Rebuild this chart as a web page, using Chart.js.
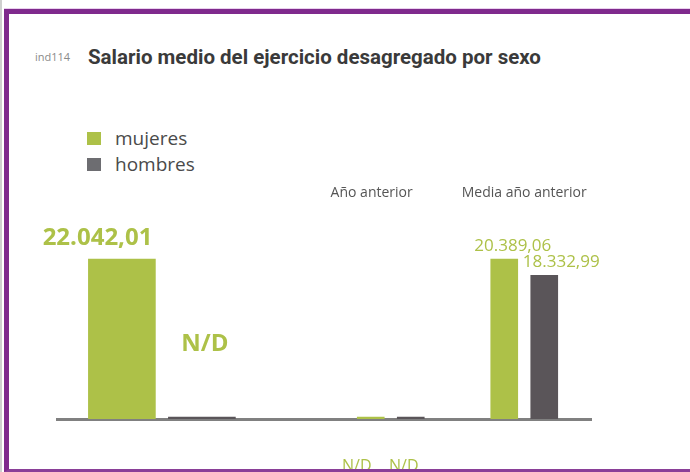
<!DOCTYPE html>
<html>
<head>
<meta charset="utf-8">
<script src="https://cdn.jsdelivr.net/npm/chart.js@4.4.0/dist/chart.umd.min.js"></script>
<style>
  html, body { margin: 0; padding: 0; background: #fff; }
  body { width: 690px; height: 472px; position: relative; overflow: hidden; font-family: "Open Sans", sans-serif; }
  .edge { position: absolute; left: 0; top: 0; width: 2px; height: 472px; background: #cfcfcf; }
  .frame { position: absolute; left: 4px; top: 9px; width: 720px; height: 463px; box-sizing: border-box;
           border-top: 5px solid #7f2a8d; border-left: 5px solid #7f2a8d; border-bottom: 3px solid #8a3f98;
           box-shadow: 0 -1px 0 #ead0ee; z-index: 2; }
  #code { position: absolute; left: 35px; top: 50px; font-size: 11px; line-height: 14px; color: #8a8a8a; }
  #title { position: absolute; left: 88px; top: 45px; font: bold 20.5px/24px Roboto, sans-serif; color: #3a3a3a; }
  #legend { position: absolute; left: 87px; top: 125px; }
  .item { display: flex; align-items: center; height: 26px; font-size: 19px; color: #4a4a4a; }
  .sw { width: 14px; height: 13px; margin-right: 14px; }
  canvas { position: absolute; left: 0; top: 0; z-index: 1; }
</style>
</head>
<body>
<div class="edge"></div>
<div class="frame"></div>
<div id="code">ind114</div>
<div id="title">Salario medio del ejercicio desagregado por sexo</div>
<div id="legend"></div>
<canvas id="salarioChart" width="690" height="472"></canvas>
<script>
// datos
const categories = ['', 'Año anterior', 'Media año anterior'];
const seriesNames = ['mujeres', 'hombres'];
const mujeres = [22042.01, 0, 20389.06];
const hombres = [0, 0, 18332.99];

const green = '#adc148';
const dark = '#5a5559';
const legendColors = [green, '#6d6d71'];

// huecos del eje x (cada grupo cae en un hueco)
const SLOTS = 28;
const barSlot = [5, 17, 24];
const labelSlot = [5, 16, 24];

function fmt(v) {
  const parts = v.toFixed(2).split('.');
  return parts[0].replace(/\B(?=(\d{3})+(?!\d))/g, '.') + ',' + parts[1];
}

function spread(values, groups) {
  const out = Array(SLOTS).fill(null);
  groups.forEach(g => out[barSlot[g]] = values[g]);
  return out;
}

const slotLabels = Array(SLOTS).fill('');
const topLabels = Array(SLOTS).fill('');
categories.forEach((c, i) => topLabels[labelSlot[i]] = c);

// leyenda html
const legend = document.getElementById('legend');
seriesNames.forEach((name, i) => {
  legend.insertAdjacentHTML('beforeend',
    `<div class="item"><div class="sw" style="background:${legendColors[i]}"></div>${name}</div>`);
});

const bigFont = 'bold 24px "Open Sans"';
const smallFont = '17px "Open Sans"';
const ndFont = '16px "Open Sans"';

const valueLabels = {
  id: 'valueLabels',
  afterDatasetsDraw(chart) {
    const ctx = chart.ctx;
    chart.data.datasets.forEach((ds, i) => {
      const meta = chart.getDatasetMeta(i);
      meta.data.forEach((bar, j) => {
        const v = ds.data[j];
        if (v === null) return;
        const st = v === 0 ? ds.ndLabel : ds.valueLabel;
        const y = v === 0 ? chart.chartArea.bottom : bar.y;
        const x = st.align === 'right' ? bar.x + bar.width / 2 : bar.x;
        ctx.save();
        ctx.font = st.font;
        ctx.fillStyle = green;
        ctx.textAlign = st.align;
        ctx.textBaseline = 'middle';
        ctx.fillText(v === 0 ? 'N/D' : fmt(v), x + st.dx, y + st.dy);
        ctx.restore();
      });
    });
  }
};

const headroom = 1.34;

new Chart(document.getElementById('salarioChart'), {
  type: 'bar',
  data: {
    labels: slotLabels,
    datasets: [
      {
        label: seriesNames[0], data: spread(mujeres, [0]), stack: 'm', yAxisID: 'y',
        backgroundColor: green, barThickness: 80, maxBarThickness: 67, minBarLength: 2,
        valueLabel: { font: bigFont, align: 'right', dx: -3, dy: -21 },
        ndLabel: { font: bigFont, align: 'center', dx: 3, dy: -75 }
      },
      {
        label: seriesNames[1], data: spread(hombres, [0]), stack: 'h', yAxisID: 'y',
        backgroundColor: dark, barThickness: 80, maxBarThickness: 67, minBarLength: 2,
        valueLabel: { font: bigFont, align: 'right', dx: -3, dy: -21 },
        ndLabel: { font: bigFont, align: 'center', dx: 3, dy: -75 }
      },
      {
        label: seriesNames[0], data: spread(mujeres, [1, 2]), stack: 'm', yAxisID: 'y2',
        backgroundColor: green, barThickness: 40, maxBarThickness: 27, minBarLength: 2,
        valueLabel: { font: smallFont, align: 'center', dx: 8.5, dy: -13 },
        ndLabel: { font: ndFont, align: 'center', dx: -14, dy: 47 }
      },
      {
        label: seriesNames[1], data: spread(hombres, [1, 2]), stack: 'h', yAxisID: 'y2',
        backgroundColor: dark, barThickness: 40, maxBarThickness: 27, minBarLength: 2,
        valueLabel: { font: smallFont, align: 'center', dx: 17, dy: -13 },
        ndLabel: { font: ndFont, align: 'center', dx: -7, dy: 47 }
      }
    ]
  },
  options: {
    responsive: false,
    animation: false,
    layout: { padding: { left: 57, right: 99, top: 182, bottom: 53 } },
    plugins: { legend: { display: false }, tooltip: { enabled: false } },
    scales: {
      x: {
        offset: true,
        ticks: { display: false },
        grid: { display: false, drawTicks: false },
        border: { color: '#808080', width: 3 }
      },
      x2: {
        type: 'category',
        position: 'top',
        labels: topLabels,
        offset: true,
        grid: { display: false, drawTicks: false },
        border: { display: false },
        ticks: { autoSkip: false, maxRotation: 0, color: '#555', font: { size: 14, family: 'Open Sans' } }
      },
      y: { display: false, stacked: false, min: 0, max: Math.max(...mujeres.slice(0, 1)) * headroom },
      y2: { display: false, stacked: false, min: 0, max: Math.max(...mujeres.slice(1)) * headroom }
    }
  },
  plugins: [valueLabels]
});
</script>
</body>
</html>
